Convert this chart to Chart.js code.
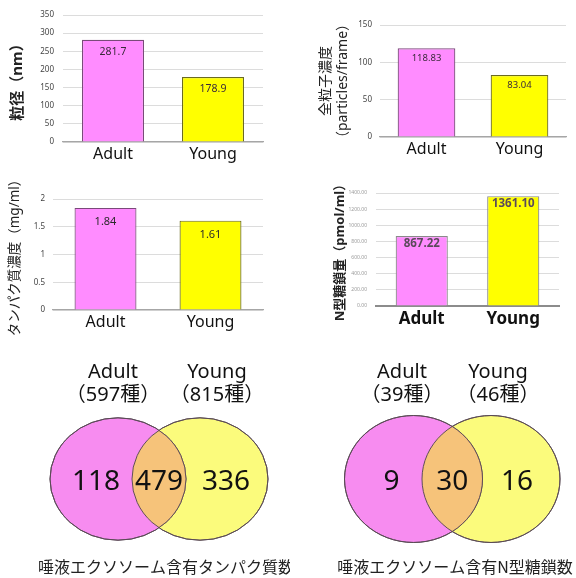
<!DOCTYPE html>
<html lang="ja">
<head>
<meta charset="UTF-8">
<title>唾液エクソソーム Adult / Young</title>
<script src="https://cdn.jsdelivr.net/npm/chart.js"></script>
<style>
  body { margin: 0; background: #fff; }
  #wrap { position: relative; width: 576px; height: 578px; }
  #wrap canvas { position: absolute; }
</style>
</head>
<body>
<div id="wrap">
  <canvas id="size" style="left:0;top:0" width="290" height="170"></canvas>
  <canvas id="conc" style="left:290px;top:0" width="286" height="170"></canvas>
  <canvas id="protein" style="left:0;top:170px" width="290" height="170"></canvas>
  <canvas id="glycan" style="left:290px;top:170px" width="286" height="170"></canvas>
  <canvas id="vennProtein" style="left:0;top:340px" width="290" height="238"></canvas>
  <canvas id="vennGlycan" style="left:290px;top:340px" width="286" height="238"></canvas>
</div>

<script>
  // data
  const groups = ['Adult', 'Young'];
  const particleSize = [281.7, 178.9];      // nm
  const particleConc = [118.83, 83.04];     // particles/frame
  const proteinConc = [1.84, 1.61];         // mg/ml
  const glycanAmount = [867.22, 1361.10];   // pmol/ml

  // Venn counts: [Adult only, both, Young only]
  const proteinVenn = [118, 479, 336];
  const proteinTotals = [597, 815];
  const glycanVenn = [9, 30, 16];
  const glycanTotals = [39, 46];

  Chart.defaults.font.family = "'Noto Sans', 'Noto Sans CJK JP', sans-serif";

  const PINK = '#ff8cff', YELLOW = '#ffff00';

  // value printed inside the top of each bar
  const valueLabels = {
    id: 'valueLabels',
    afterDatasetsDraw(chart, args, opts) {
      const ctx = chart.ctx;
      const ds = chart.data.datasets[0];
      ctx.save();
      ctx.font = opts.font;
      ctx.fillStyle = opts.color;
      ctx.textAlign = 'center';
      ctx.textBaseline = 'middle';
      chart.getDatasetMeta(0).data.forEach((bar, i) => {
        ctx.fillText(ds.data[i].toFixed(opts.decimals), bar.x, bar.y + opts.offset);
      });
      ctx.restore();
    }
  };

  function barChart(id, values, c) {
    return new Chart(document.getElementById(id), {
      type: 'bar',
      data: {
        labels: groups,
        datasets: [{
          data: values,
          backgroundColor: [PINK, YELLOW],
          borderColor: c.border,
          borderWidth: 1.2,
          categoryPercentage: 1,
          barPercentage: c.barPct
        }]
      },
      options: {
        responsive: false,
        animation: false,
        layout: { padding: { left: 0, right: c.right, top: c.top, bottom: 0 } },
        plugins: {
          legend: { display: false },
          tooltip: { enabled: false },
          valueLabels: c.value
        },
        scales: {
          x: {
            grid: { display: false, drawTicks: false },
            border: { color: c.axisColor || '#a6a6a6', width: c.axisWidth || 1.2 },
            ticks: { color: '#111', font: c.catFont, padding: 3 },
            afterFit: s => { s.height = c.xHeight; }
          },
          y: {
            min: 0,
            max: c.max,
            grid: { color: '#dcdcdc', drawTicks: false },
            border: { display: false },
            ticks: {
              stepSize: c.step,
              color: c.tickColor || '#444',
              font: { size: c.tickSize },
              padding: c.tickPad,
              callback: c.fmt || (v => v)
            },
            title: {
              display: true,
              text: c.title,
              color: '#222',
              font: c.titleFont,
              padding: { top: c.titlePad, bottom: 0 }
            },
            afterFit: s => { s.width = c.yWidth; }
          }
        }
      },
      plugins: [valueLabels]
    });
  }

  barChart('size', particleSize, {
    max: 350, step: 50, tickSize: 8, tickPad: 9,
    right: 27, top: 15, yWidth: 63, xHeight: 28, barPct: 0.62,
    border: ['#7a4a7a', '#6b6b20'],
    catFont: { size: 16 },
    title: '粒径（nm）', titleFont: { size: 15, weight: 'bold' }, titlePad: 9,
    value: { font: "10.5px 'Noto Sans'", color: '#3a2a3a', decimals: 1, offset: 12 }
  });

  barChart('conc', particleConc, {
    max: 150, step: 50, tickSize: 8, tickPad: 8,
    right: 10, top: 25, yWidth: 90, xHeight: 33, barPct: 0.62,
    border: ['#7a4a7a', '#6b6b20'],
    catFont: { size: 16 },
    title: ['全粒子濃度', '（particles/frame）'], titleFont: { size: 14 }, titlePad: 28,
    value: { font: "9.5px 'Noto Sans'", color: '#3a2a3a', decimals: 2, offset: 10 }
  });

  barChart('protein', proteinConc, {
    max: 2, step: 0.5, tickSize: 8, tickPad: 8,
    right: 27, top: 29, yWidth: 53, xHeight: 30, barPct: 0.59,
    border: ['#7a4a7a', '#6b6b20'],
    catFont: { size: 16 },
    title: 'タンパク質濃度（mg/ml）', titleFont: { size: 13.5 }, titlePad: 7,
    value: { font: "11px 'Noto Sans'", color: '#2a2a2a', decimals: 2, offset: 14 }
  });

  barChart('glycan', glycanAmount, {
    max: 1400, step: 200, tickSize: 5, tickPad: 9, tickColor: '#9a9a9a',
    fmt: v => v.toFixed(2),
    right: 17, top: 23, yWidth: 86, xHeight: 34, barPct: 0.57,
    border: ['#8a8a8a', '#8a8a8a'], axisColor: '#8c8c8c', axisWidth: 2,
    catFont: { size: 17, weight: 'bold' },
    title: 'N型糖鎖量（pmol/ml）', titleFont: { size: 13, weight: 'bold' }, titlePad: 42,
    value: { font: "bold 11.5px 'Noto Sans'", color: '#5a4a5a', decimals: 2, offset: 8 }
  });

  // ---- Venn diagrams: two points drawn as (slightly squashed) circles ----
  const vennPlugin = {
    id: 'venn',
    beforeDatasetsDraw(chart, args, o) {
      const ctx = chart.ctx;
      const cy = chart.scales.y.getPixelForValue(o.cy);
      ctx.save();
      ctx.translate(0, cy);
      ctx.scale(1, o.squash);
      ctx.translate(0, -cy);
    },
    afterDatasetsDraw(chart, args, o) {
      const ctx = chart.ctx;
      const a = chart.getDatasetMeta(0).data[0];
      const b = chart.getDatasetMeta(1).data[0];
      const ra = a.options.radius, rb = b.options.radius;
      // overlap region
      ctx.save();
      ctx.beginPath();
      ctx.arc(a.x, a.y, ra, 0, Math.PI * 2);
      ctx.clip();
      ctx.beginPath();
      ctx.arc(b.x, b.y, rb, 0, Math.PI * 2);
      ctx.fillStyle = o.overlap;
      ctx.fill();
      ctx.restore();
      ctx.lineWidth = 1;
      ctx.strokeStyle = '#5a4a55';
      ctx.beginPath(); ctx.arc(a.x, a.y, ra, 0, Math.PI * 2); ctx.stroke();
      ctx.beginPath(); ctx.arc(b.x, b.y, rb, 0, Math.PI * 2); ctx.stroke();
      ctx.restore();
    },
    afterDraw(chart, args, o) {
      const ctx = chart.ctx;
      const xs = chart.scales.x, ys = chart.scales.y;
      const px = v => xs.getPixelForValue(v), py = v => ys.getPixelForValue(v);
      ctx.save();
      ctx.textAlign = 'center';
      ctx.textBaseline = 'middle';
      ctx.fillStyle = '#111';
      ctx.font = "20px 'Noto Sans', 'Noto Sans CJK JP'";
      groups.forEach((g, i) => {
        ctx.fillText(g, px(o.headX[i]), py(o.headY[0]));
        ctx.fillText('（' + o.totals[i] + '種）', px(o.headX[i]), py(o.headY[1]));
      });
      ctx.font = "28px 'Noto Sans'";
      o.counts.forEach((n, i) => ctx.fillText(String(n), px(o.countX[i]), py(o.countY)));
      ctx.font = "16px 'Noto Sans CJK JP'";
      ctx.fillStyle = '#222';
      ctx.fillText(o.caption, px(o.capX), py(o.capY));
      ctx.restore();
    }
  };

  function vennChart(id, counts, totals, caption, lay) {
    const canvas = document.getElementById(id);
    const c0 = lay.cx[0], c1 = lay.cx[1];
    return new Chart(canvas, {
      type: 'scatter',
      data: {
        datasets: [
          { data: [{ x: c0, y: lay.cy }], pointRadius: lay.r, backgroundColor: '#f78cf0',
            borderColor: '#5a4a55', borderWidth: 1, clip: false },
          { data: [{ x: c1, y: lay.cy }], pointRadius: lay.r, backgroundColor: '#fbfb7c',
            borderColor: '#5a4a55', borderWidth: 1, clip: false }
        ]
      },
      options: {
        responsive: false,
        animation: false,
        layout: { padding: 0, autoPadding: false },
        scales: {
          x: { display: false, min: 0, max: canvas.width },
          y: { display: false, min: 0, max: canvas.height, reverse: true }
        },
        plugins: {
          legend: { display: false },
          tooltip: { enabled: false },
          venn: {
            cy: lay.cy, squash: lay.squash, overlap: '#f6c37a',
            counts, totals, caption,
            headX: lay.headX, headY: [32, 55],
            countX: [c0 - 22, (c0 + c1) / 2, c1 + 26], countY: lay.cy + 3,
            capX: lay.capX, capY: 227
          }
        }
      },
      plugins: [vennPlugin]
    });
  }

  vennChart('vennProtein', proteinVenn, proteinTotals, '唾液エクソソーム含有タンパク質数',
    { cx: [118, 200], cy: 139, r: 68, squash: 0.9, headX: [113, 217], capX: 166 });

  vennChart('vennGlycan', glycanVenn, glycanTotals, '唾液エクソソーム含有N型糖鎖数',
    { cx: [123.5, 201], cy: 139, r: 69, squash: 0.92, headX: [112, 208], capX: 165 });
</script>
</body>
</html>
